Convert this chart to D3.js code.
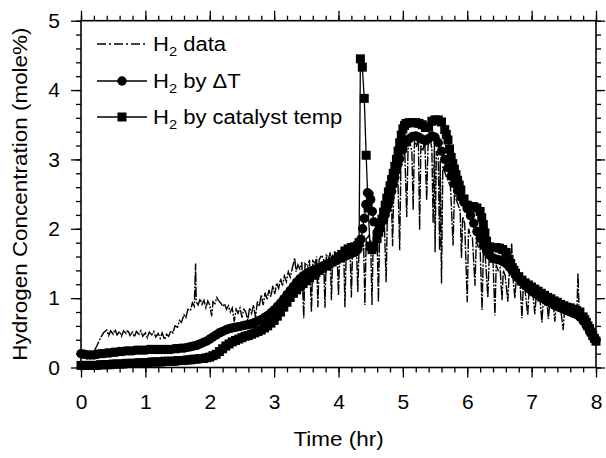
<!DOCTYPE html>
<html>
<head>
<meta charset="utf-8">
<script src="https://cdn.jsdelivr.net/npm/d3@7"></script>
<style>
  body { margin: 0; background: #fff; }
  svg { display: block; }
  text { font-family: "Liberation Sans", Arial, Helvetica, sans-serif; fill: #000; }
</style>
</head>
<body>
<svg id="chart" width="606" height="458"></svg>
<script>
// Axis ticks
const xTickValues = [0, 1, 2, 3, 4, 5, 6, 7, 8];
const yTickValues = [0, 1, 2, 3, 4, 5];
const xTitle = "Time (hr)";
const yTitle = "Hydrogen Concentration (mole%)";

// Measured hydrogen concentration, [time (hr), mole%]
const h2Data = [
  [0.00,0.20],[0.05,0.19],[0.10,0.21],[0.15,0.20],[0.20,0.23],[0.25,0.32],[0.30,0.42],[0.35,0.50],
  [0.40,0.54],[0.43,0.46],[0.46,0.53],[0.50,0.48],[0.53,0.55],[0.56,0.47],[0.60,0.52],[0.63,0.45],
  [0.66,0.53],[0.70,0.49],[0.73,0.54],[0.76,0.46],[0.80,0.51],[0.83,0.44],[0.86,0.52],[0.90,0.48],
  [0.93,0.53],[0.96,0.45],[1.00,0.50],[1.03,0.43],[1.06,0.51],[1.10,0.47],[1.13,0.52],[1.16,0.44],
  [1.20,0.49],[1.23,0.42],[1.26,0.50],[1.30,0.40],[1.33,0.48],[1.36,0.45],[1.40,0.53],[1.43,0.50],
  [1.46,0.60],[1.50,0.58],[1.53,0.68],[1.56,0.65],[1.60,0.76],[1.63,0.72],[1.66,0.84],[1.70,0.82],
  [1.73,0.93],[1.76,0.88],[1.78,1.50],[1.79,0.95],[1.82,0.90],[1.85,0.99],[1.88,0.91],[1.91,0.97],
  [1.94,0.86],[1.97,0.96],[2.00,0.90],[2.03,0.74],[2.05,0.95],[2.08,0.92],[2.11,1.01],[2.14,0.96],
  [2.17,0.93],[2.20,0.88],[2.23,0.92],[2.26,0.84],[2.29,0.89],[2.32,0.80],[2.35,0.86],[2.38,0.66],
  [2.41,0.84],[2.44,0.78],[2.47,0.86],[2.50,0.72],[2.53,0.84],[2.56,0.80],[2.59,0.68],[2.62,0.86],
  [2.65,0.78],[2.68,0.90],[2.71,0.72],[2.74,0.95],[2.77,0.88],[2.80,1.05],[2.83,0.90],[2.86,1.08],
  [2.89,0.98],[2.92,1.12],[2.95,1.02],[2.98,1.18],[3.01,1.06],[3.04,1.22],[3.07,1.14],[3.10,1.28],
  [3.13,1.18],[3.16,1.32],[3.19,1.24],[3.22,1.38],[3.25,1.30],[3.28,1.42],[3.32,1.58],[3.34,1.38],
  [3.37,1.48],[3.40,1.42],[3.43,1.52],[3.46,0.71],[3.48,1.50],[3.52,1.46],[3.55,1.55],[3.58,0.80],
  [3.60,1.54],[3.64,1.50],[3.66,1.60],[3.68,0.87],[3.70,1.56],[3.74,1.62],[3.77,1.55],[3.79,0.86],
  [3.81,1.62],[3.85,1.58],[3.87,1.66],[3.89,0.97],[3.91,1.62],[3.95,1.68],[3.98,1.60],[4.00,1.04],
  [4.02,1.70],[4.06,1.64],[4.08,1.72],[4.10,0.87],[4.12,1.70],[4.16,1.76],[4.18,1.68],[4.20,1.01],
  [4.22,1.74],[4.26,1.78],[4.28,1.70],[4.30,1.09],[4.32,1.76],[4.36,1.82],[4.39,1.78],[4.41,0.90],
  [4.43,1.85],[4.47,1.90],[4.50,1.82],[4.52,0.90],[4.54,1.88],[4.58,1.95],[4.60,1.88],[4.62,0.94],
  [4.64,2.00],[4.68,2.08],[4.71,2.15],[4.74,1.23],[4.76,2.28],[4.79,2.40],[4.82,2.52],[4.84,1.75],
  [4.86,2.62],[4.89,2.70],[4.92,2.82],[4.95,1.69],[4.97,2.95],[5.00,3.02],[5.03,3.10],[5.06,2.17],
  [5.08,3.15],[5.11,3.26],[5.14,3.10],[5.16,2.27],[5.18,3.28],[5.21,3.18],[5.24,3.32],[5.26,1.98],
  [5.28,3.20],[5.31,3.12],[5.34,3.28],[5.37,2.41],[5.39,3.18],[5.42,3.32],[5.45,3.16],[5.47,2.08],
  [5.49,3.26],[5.50,1.66],[5.52,3.12],[5.55,3.02],[5.57,1.69],[5.58,2.98],[5.60,1.21],[5.62,2.90],
  [5.65,2.82],[5.68,2.74],[5.71,2.68],[5.74,2.60],[5.78,1.76],[5.80,2.50],[5.83,2.42],[5.86,2.34],
  [5.89,2.26],[5.91,1.58],[5.93,2.17],[5.96,2.08],[6.00,0.94],[6.02,2.00],[6.05,1.90],[6.08,1.88],
  [6.12,1.18],[6.14,1.82],[6.17,1.74],[6.20,1.72],[6.23,0.83],[6.25,1.68],[6.28,1.60],[6.32,1.01],
  [6.34,1.58],[6.37,1.50],[6.40,1.54],[6.43,0.75],[6.45,1.48],[6.48,1.40],[6.51,1.44],[6.54,0.97],
  [6.56,1.40],[6.59,1.32],[6.63,0.95],[6.65,1.34],[6.69,1.79],[6.71,1.30],[6.74,1.00],[6.76,1.27],
  [6.79,1.19],[6.82,1.22],[6.85,0.71],[6.87,1.17],[6.90,1.10],[6.94,0.75],[6.96,1.12],[6.99,1.04],
  [7.02,1.06],[7.05,0.77],[7.07,1.02],[7.10,0.96],[7.13,0.99],[7.16,0.65],[7.18,0.96],[7.21,0.90],
  [7.24,0.93],[7.26,0.70],[7.28,0.91],[7.31,0.86],[7.34,0.89],[7.36,0.66],[7.38,0.87],[7.42,0.82],
  [7.45,0.85],[7.49,0.54],[7.51,0.83],[7.55,0.78],[7.58,0.81],[7.62,0.76],[7.66,0.78],[7.70,0.73],
  [7.72,1.36],[7.74,0.74],[7.78,0.69],[7.82,0.64],[7.86,0.56],[7.90,0.50],[7.94,0.42],[7.97,0.39],
  [8.00,0.36]
];

// Hydrogen estimated from the temperature rise, [time (hr), mole%]
const h2ByDeltaT = [
  [0.00,0.20],[0.05,0.19],[0.10,0.18],[0.15,0.18],[0.20,0.18],[0.25,0.19],[0.30,0.20],[0.35,0.20],
  [0.40,0.21],[0.45,0.21],[0.50,0.22],[0.55,0.22],[0.60,0.23],[0.65,0.23],[0.70,0.24],[0.75,0.24],
  [0.80,0.24],[0.85,0.25],[0.90,0.25],[0.95,0.25],[1.00,0.25],[1.05,0.26],[1.10,0.26],[1.15,0.26],
  [1.20,0.26],[1.25,0.26],[1.30,0.26],[1.35,0.26],[1.40,0.26],[1.45,0.27],[1.50,0.27],[1.55,0.28],
  [1.60,0.28],[1.65,0.29],[1.70,0.30],[1.75,0.31],[1.80,0.32],[1.85,0.34],[1.90,0.36],[1.95,0.38],
  [2.00,0.41],[2.05,0.44],[2.10,0.47],[2.15,0.50],[2.20,0.52],[2.25,0.54],[2.30,0.56],[2.35,0.57],
  [2.40,0.58],[2.45,0.59],[2.50,0.60],[2.55,0.61],[2.60,0.62],[2.65,0.63],[2.70,0.65],[2.75,0.67],
  [2.80,0.69],[2.85,0.72],[2.90,0.75],[2.95,0.79],[3.00,0.83],[3.05,0.88],[3.10,0.93],[3.15,0.99],
  [3.20,1.05],[3.25,1.11],[3.30,1.17],[3.35,1.23],[3.40,1.28],[3.45,1.32],[3.50,1.35],[3.55,1.38],
  [3.60,1.40],[3.65,1.42],[3.70,1.44],[3.75,1.46],[3.80,1.48],[3.85,1.50],[3.90,1.52],[3.95,1.54],
  [4.00,1.56],[4.05,1.58],[4.10,1.60],[4.15,1.62],[4.20,1.64],[4.25,1.66],[4.30,1.70],[4.35,1.85],
  [4.375,2.00],[4.40,2.15],[4.425,2.35],[4.45,2.52],[4.475,2.50],[4.50,2.42],[4.525,2.25],[4.55,2.10],
  [4.60,1.95],[4.65,2.00],[4.70,2.12],[4.725,2.20],[4.75,2.28],[4.775,2.36],[4.80,2.45],[4.825,2.54],
  [4.85,2.64],[4.875,2.74],[4.90,2.84],[4.925,2.93],[4.95,3.01],[5.00,3.14],[5.05,3.24],[5.10,3.30],
  [5.15,3.33],[5.20,3.34],[5.25,3.32],[5.30,3.29],[5.35,3.27],[5.40,3.30],[5.45,3.34],[5.50,3.32],
  [5.55,3.24],[5.60,3.12],[5.65,3.00],[5.70,2.88],[5.75,2.76],[5.80,2.65],[5.85,2.55],[5.90,2.46],
  [5.95,2.38],[6.00,2.29],[6.05,2.19],[6.10,2.08],[6.15,1.96],[6.20,1.86],[6.25,1.76],[6.30,1.68],
  [6.35,1.62],[6.40,1.58],[6.45,1.56],[6.50,1.55],[6.55,1.53],[6.60,1.50],[6.65,1.45],[6.70,1.39],
  [6.75,1.33],[6.80,1.28],[6.85,1.23],[6.90,1.18],[6.95,1.14],[7.00,1.10],[7.05,1.07],[7.10,1.04],
  [7.15,1.01],[7.20,0.98],[7.25,0.95],[7.30,0.93],[7.35,0.90],[7.40,0.88],[7.45,0.86],[7.50,0.84],
  [7.55,0.82],[7.60,0.80],[7.65,0.78],[7.70,0.76],[7.75,0.73],[7.80,0.67],[7.85,0.60],[7.90,0.52],
  [7.95,0.45],[8.00,0.40]
];

// Hydrogen estimated from the catalyst temperature, [time (hr), mole%]
const h2ByCatalystTemp = [
  [0.00,0.03],[0.05,0.03],[0.10,0.03],[0.15,0.03],[0.20,0.03],[0.25,0.03],[0.30,0.04],[0.35,0.04],
  [0.40,0.04],[0.45,0.04],[0.50,0.05],[0.55,0.05],[0.60,0.05],[0.65,0.05],[0.70,0.06],[0.75,0.06],
  [0.80,0.06],[0.85,0.06],[0.90,0.07],[0.95,0.07],[1.00,0.07],[1.05,0.07],[1.10,0.08],[1.15,0.08],
  [1.20,0.08],[1.25,0.08],[1.30,0.09],[1.35,0.09],[1.40,0.09],[1.45,0.09],[1.50,0.10],[1.55,0.10],
  [1.60,0.10],[1.65,0.11],[1.70,0.11],[1.75,0.12],[1.80,0.12],[1.85,0.13],[1.90,0.13],[1.95,0.14],
  [2.00,0.15],[2.05,0.17],[2.10,0.19],[2.15,0.23],[2.20,0.27],[2.25,0.31],[2.30,0.34],[2.35,0.37],
  [2.40,0.39],[2.45,0.41],[2.50,0.43],[2.55,0.45],[2.60,0.46],[2.65,0.48],[2.70,0.50],[2.75,0.52],
  [2.80,0.54],[2.85,0.57],[2.90,0.60],[2.95,0.64],[3.00,0.68],[3.05,0.74],[3.10,0.80],[3.15,0.87],
  [3.20,0.94],[3.25,1.01],[3.30,1.07],[3.35,1.12],[3.40,1.17],[3.45,1.21],[3.50,1.25],[3.55,1.29],
  [3.60,1.33],[3.65,1.37],[3.70,1.40],[3.75,1.43],[3.80,1.46],[3.85,1.49],[3.90,1.52],[3.95,1.55],
  [4.00,1.59],[4.05,1.63],[4.10,1.68],[4.15,1.71],[4.20,1.73],[4.25,1.74],[4.30,1.76],[4.32,1.80],
  [4.34,4.45],[4.37,4.33],[4.40,3.88],[4.43,3.06],[4.46,2.30],[4.49,1.75],[4.52,1.70],[4.55,1.74],
  [4.60,1.86],[4.625,1.95],[4.65,2.04],[4.675,2.14],[4.70,2.24],[4.725,2.34],[4.75,2.44],[4.775,2.53],
  [4.80,2.62],[4.825,2.71],[4.85,2.80],[4.875,2.90],[4.90,3.00],[4.925,3.12],[4.95,3.24],[4.975,3.35],
  [5.00,3.44],[5.025,3.49],[5.05,3.52],[5.10,3.53],[5.15,3.53],[5.20,3.53],[5.25,3.52],[5.30,3.50],
  [5.35,3.46],[5.40,3.47],[5.45,3.55],[5.50,3.57],[5.55,3.57],[5.60,3.54],[5.65,3.43],[5.675,3.36],
  [5.70,3.28],[5.725,3.15],[5.75,3.03],[5.775,2.94],[5.80,2.86],[5.825,2.78],[5.85,2.70],[5.875,2.63],
  [5.90,2.56],[5.95,2.43],[6.00,2.34],[6.05,2.32],[6.10,2.32],[6.15,2.30],[6.20,2.25],[6.225,2.16],
  [6.25,2.06],[6.275,1.94],[6.30,1.82],[6.35,1.74],[6.40,1.73],[6.45,1.73],[6.50,1.72],[6.55,1.70],
  [6.60,1.66],[6.65,1.56],[6.675,1.50],[6.70,1.44],[6.725,1.40],[6.75,1.36],[6.80,1.31],[6.85,1.26],
  [6.90,1.22],[6.95,1.19],[7.00,1.16],[7.05,1.13],[7.10,1.10],[7.15,1.07],[7.20,1.04],[7.25,1.01],
  [7.30,0.99],[7.35,0.96],[7.40,0.94],[7.45,0.91],[7.50,0.89],[7.55,0.87],[7.60,0.86],[7.65,0.84],
  [7.70,0.82],[7.75,0.80],[7.80,0.73],[7.825,0.69],[7.85,0.65],[7.875,0.60],[7.90,0.56],[7.925,0.51],
  [7.95,0.46],[7.975,0.42],[8.00,0.38]
];

const svg = d3.select("#chart");
const W = 606, H = 458;
const margin = { left: 81, right: 10, top: 20.7, bottom: 90.5 };

const x = d3.scaleLinear().domain([0, 8]).range([margin.left, W - margin.right]);
const y = d3.scaleLinear().domain([0, 5]).range([H - margin.bottom, margin.top]);

const xMinor = d3.range(0, 8.0001, 0.2);
const yMinor = d3.range(0, 5.0001, 0.2);

// ---- axes (ticks outward on all four sides) ----
function styleAxis(g) {
  g.select(".domain").remove();
  g.selectAll(".tick line").attr("stroke", "#000").attr("stroke-width", 1.3);
}

const fontTick = 21;
const fontFamily = '"Liberation Sans", Arial, Helvetica, sans-serif';

svg.append("g").attr("transform", `translate(0,${y(0)})`)
  .call(d3.axisBottom(x).tickValues(xMinor).tickSize(5).tickFormat(""))
  .call(styleAxis);
svg.append("g").attr("transform", `translate(0,${y(0)})`)
  .call(d3.axisBottom(x).tickValues(xTickValues).tickSize(10).tickPadding(17).tickFormat(d3.format("d")))
  .call(styleAxis)
  .call(g => g.selectAll("text").attr("font-size", fontTick).attr("fill", "#000").attr("font-family", fontFamily));

svg.append("g").attr("transform", `translate(0,${y(5)})`)
  .call(d3.axisTop(x).tickValues(xMinor).tickSize(5).tickFormat(""))
  .call(styleAxis);
svg.append("g").attr("transform", `translate(0,${y(5)})`)
  .call(d3.axisTop(x).tickValues(xTickValues).tickSize(10).tickFormat(""))
  .call(styleAxis);

svg.append("g").attr("transform", `translate(${x(0)},0)`)
  .call(d3.axisLeft(y).tickValues(yMinor).tickSize(5).tickFormat(""))
  .call(styleAxis);
svg.append("g").attr("transform", `translate(${x(0)},0)`)
  .call(d3.axisLeft(y).tickValues(yTickValues).tickSize(10).tickPadding(11).tickFormat(d3.format("d")))
  .call(styleAxis)
  .call(g => g.selectAll("text").attr("font-size", fontTick).attr("fill", "#000").attr("font-family", fontFamily));

svg.append("g").attr("transform", `translate(${x(8)},0)`)
  .call(d3.axisRight(y).tickValues(yMinor).tickSize(5).tickFormat(""))
  .call(styleAxis);
svg.append("g").attr("transform", `translate(${x(8)},0)`)
  .call(d3.axisRight(y).tickValues(yTickValues).tickSize(9).tickFormat(""))
  .call(styleAxis);

// frame
svg.append("rect")
  .attr("x", x(0)).attr("y", y(5))
  .attr("width", x(8) - x(0)).attr("height", y(0) - y(5))
  .attr("fill", "none").attr("stroke", "#000").attr("stroke-width", 1.6);

// axis titles
svg.append("text")
  .attr("transform", `translate(${(x(0) + x(8)) / 2},446) scale(1.07,1)`)
  .attr("text-anchor", "middle").attr("font-size", 21)
  .text(xTitle);
svg.append("text")
  .attr("transform", `translate(27,${(y(0) + y(5)) / 2}) rotate(-90) scale(1.07,1)`)
  .attr("text-anchor", "middle").attr("font-size", 21)
  .text(yTitle);

// ---- series ----
const line = d3.line().x(d => x(d[0])).y(d => y(d[1]));
const SQ = 9, R = 4.7;

const plot = svg.append("g");

plot.append("path").datum(h2ByCatalystTemp)
  .attr("d", line).attr("fill", "none").attr("stroke", "#000").attr("stroke-width", 1.3);
plot.append("g").selectAll("rect").data(h2ByCatalystTemp).join("rect")
  .attr("x", d => x(d[0]) - SQ / 2).attr("y", d => y(d[1]) - SQ / 2)
  .attr("width", SQ).attr("height", SQ).attr("fill", "#000");

plot.append("path").datum(h2ByDeltaT)
  .attr("d", line).attr("fill", "none").attr("stroke", "#000").attr("stroke-width", 1.3);
plot.append("g").selectAll("circle").data(h2ByDeltaT).join("circle")
  .attr("cx", d => x(d[0])).attr("cy", d => y(d[1])).attr("r", R).attr("fill", "#000");

plot.append("path").datum(h2Data)
  .attr("d", line).attr("fill", "none").attr("stroke", "#000").attr("stroke-width", 1.4)
  .attr("stroke-dasharray", "10,1.5,2,1.5");

// ---- legend ----
const legend = svg.append("g");
const legendRows = [
  { y: 44, label: " data", marker: null, dash: "9,3,2,3" },
  { y: 81, label: " by \u0394T", marker: "circle", dash: null },
  { y: 117, label: " by catalyst temp", marker: "square", dash: null }
];
legendRows.forEach(r => {
  legend.append("line").attr("x1", 97).attr("x2", 147).attr("y1", r.y).attr("y2", r.y)
    .attr("stroke", "#000").attr("stroke-width", 1.4)
    .attr("stroke-dasharray", r.dash);
  if (r.marker === "circle") {
    legend.append("circle").attr("cx", 122).attr("cy", r.y).attr("r", R).attr("fill", "#000");
  } else if (r.marker === "square") {
    legend.append("rect").attr("x", 122 - SQ / 2).attr("y", r.y - SQ / 2)
      .attr("width", SQ).attr("height", SQ).attr("fill", "#000");
  }
  const t = legend.append("text")
    .attr("transform", `translate(153,${r.y + 7}) scale(1.13,1)`)
    .attr("font-size", 19.5);
  t.append("tspan").text("H");
  t.append("tspan").attr("font-size", 13).attr("dy", 5).text("2");
  t.append("tspan").attr("dy", -5).text(r.label);
});
</script>
</body>
</html>
